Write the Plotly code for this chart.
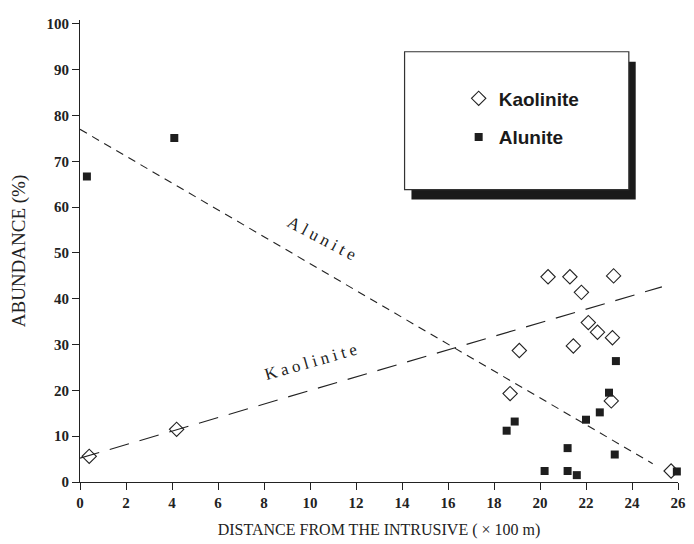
import plotly.graph_objects as go

# ---- data ----
kaol_x = [0.4, 4.2, 18.7, 19.1, 20.35, 21.3, 21.45, 21.8, 22.1, 22.5, 23.1, 23.15, 23.2, 25.7]
kaol_y = [5.6, 11.5, 19.3, 28.7, 44.8, 44.8, 29.7, 41.4, 34.8, 32.7, 17.7, 31.5, 45.0, 2.4]
alun_x = [0.3, 4.1, 18.55, 18.9, 20.2, 21.2, 21.2, 21.6, 22.0, 22.6, 23.0, 23.3, 23.25, 25.95]
alun_y = [66.7, 75.1, 11.2, 13.2, 2.4, 7.4, 2.4, 1.5, 13.6, 15.2, 19.5, 26.4, 6.0, 2.3]

kaol_fit_x = [0, 25.3]
kaol_fit_y = [5.2, 42.6]
alun_fit_x = [0, 24.9]
alun_fit_y = [77.0, 4.0]

x_ticks = list(range(0, 27, 2))
y_ticks = list(range(0, 101, 10))

# ---- layout geometry (pixels; page body adds an 8px margin) ----
W, H = 686, 536
ML, MR, MT, MB = 68, 10, 8, 62
PW, PH = W - ML - MR, H - MT - MB


def px(x):
    return (x - ML) / PW


def py(y):
    return (H - MB - y) / PH


ink = "#222222"
fig = go.Figure()

fig.add_trace(go.Scatter(x=alun_fit_x, y=alun_fit_y, mode="lines",
                         line=dict(color=ink, width=1.1, dash="8px,6px"),
                         showlegend=False, hoverinfo="skip"))
fig.add_trace(go.Scatter(x=kaol_fit_x, y=kaol_fit_y, mode="lines",
                         line=dict(color=ink, width=1.1, dash="20px,11px"),
                         showlegend=False, hoverinfo="skip"))

fig.add_trace(go.Scatter(x=kaol_x, y=kaol_y, mode="markers", name="Kaolinite",
                         legendgroup="k",
                         marker=dict(symbol="diamond-open", size=11, color=ink,
                                     line=dict(width=1.1, color=ink)),
                         cliponaxis=False))
fig.add_trace(go.Scatter(x=alun_x, y=alun_y, mode="markers", name="Alunite",
                         legendgroup="a",
                         marker=dict(symbol="square", size=8, color="#1e1e1e"),
                         cliponaxis=False))

# legend box + shadow
bx0, bx1, by0, by1 = 398, 626, 40, 179
fig.add_shape(type="rect", xref="paper", yref="paper",
              x0=px(bx0 + 7), x1=px(bx1 + 7), y0=py(by1 + 10), y1=py(by0 + 10),
              fillcolor="#1a1a1a", line=dict(width=0), layer="below")
fig.add_shape(type="rect", xref="paper", yref="paper",
              x0=px(bx0), x1=px(bx1), y0=py(by1), y1=py(by0),
              fillcolor="white", line=dict(color="#333", width=1.2), layer="below")

serif = "Liberation Serif, Times New Roman, serif"
fig.add_annotation(x=10.6, y=53.0, xref="x", yref="y", showarrow=False,
                   text='<span style="letter-spacing:4px">Alunite</span>',
                   textangle=28, font=dict(family=serif, size=17, color=ink))
fig.add_annotation(x=10.1, y=26.4, xref="x", yref="y", showarrow=False,
                   text='<span style="letter-spacing:4px">Kaolinite</span>',
                   textangle=-16, font=dict(family=serif, size=17, color=ink))

fig.update_layout(
    width=W, height=H,
    margin=dict(l=ML, r=MR, t=MT, b=MB),
    paper_bgcolor="white", plot_bgcolor="white",
    legend=dict(x=px(453), y=py(68), xanchor="left", yanchor="top",
                bgcolor="rgba(0,0,0,0)", borderwidth=0,
                font=dict(family="Liberation Sans, Arial, sans-serif", size=19, color="#1a1a1a",
                          weight=600),
                traceorder="grouped", tracegroupgap=11),
    showlegend=True,
)
fig.update_xaxes(range=[0, 26], tickvals=x_ticks, ticktext=[str(v) for v in x_ticks],
                 showgrid=False, zeroline=False, showline=True, linecolor=ink, linewidth=1.2,
                 ticks="outside", ticklen=7, tickcolor=ink, ticklabeloverflow="allow",
                 tickfont=dict(family=serif, size=15, color=ink, weight="bold"),
                 title=dict(text="DISTANCE FROM THE INTRUSIVE ( × 100 m)", standoff=13,
                            font=dict(family=serif, size=16, color=ink)))
fig.update_yaxes(range=[0, PH / 4.62], tickvals=y_ticks, ticktext=[str(v) for v in y_ticks],
                 showgrid=False, zeroline=False, showline=True, linecolor=ink, linewidth=1.2,
                 ticks="outside", ticklen=7, tickcolor=ink,
                 tickfont=dict(family=serif, size=15, color=ink, weight="bold"),
                 title=dict(text="ABUNDANCE (%)", standoff=17,
                            font=dict(family=serif, size=19, color=ink)))

fig.write_html("out.html")
